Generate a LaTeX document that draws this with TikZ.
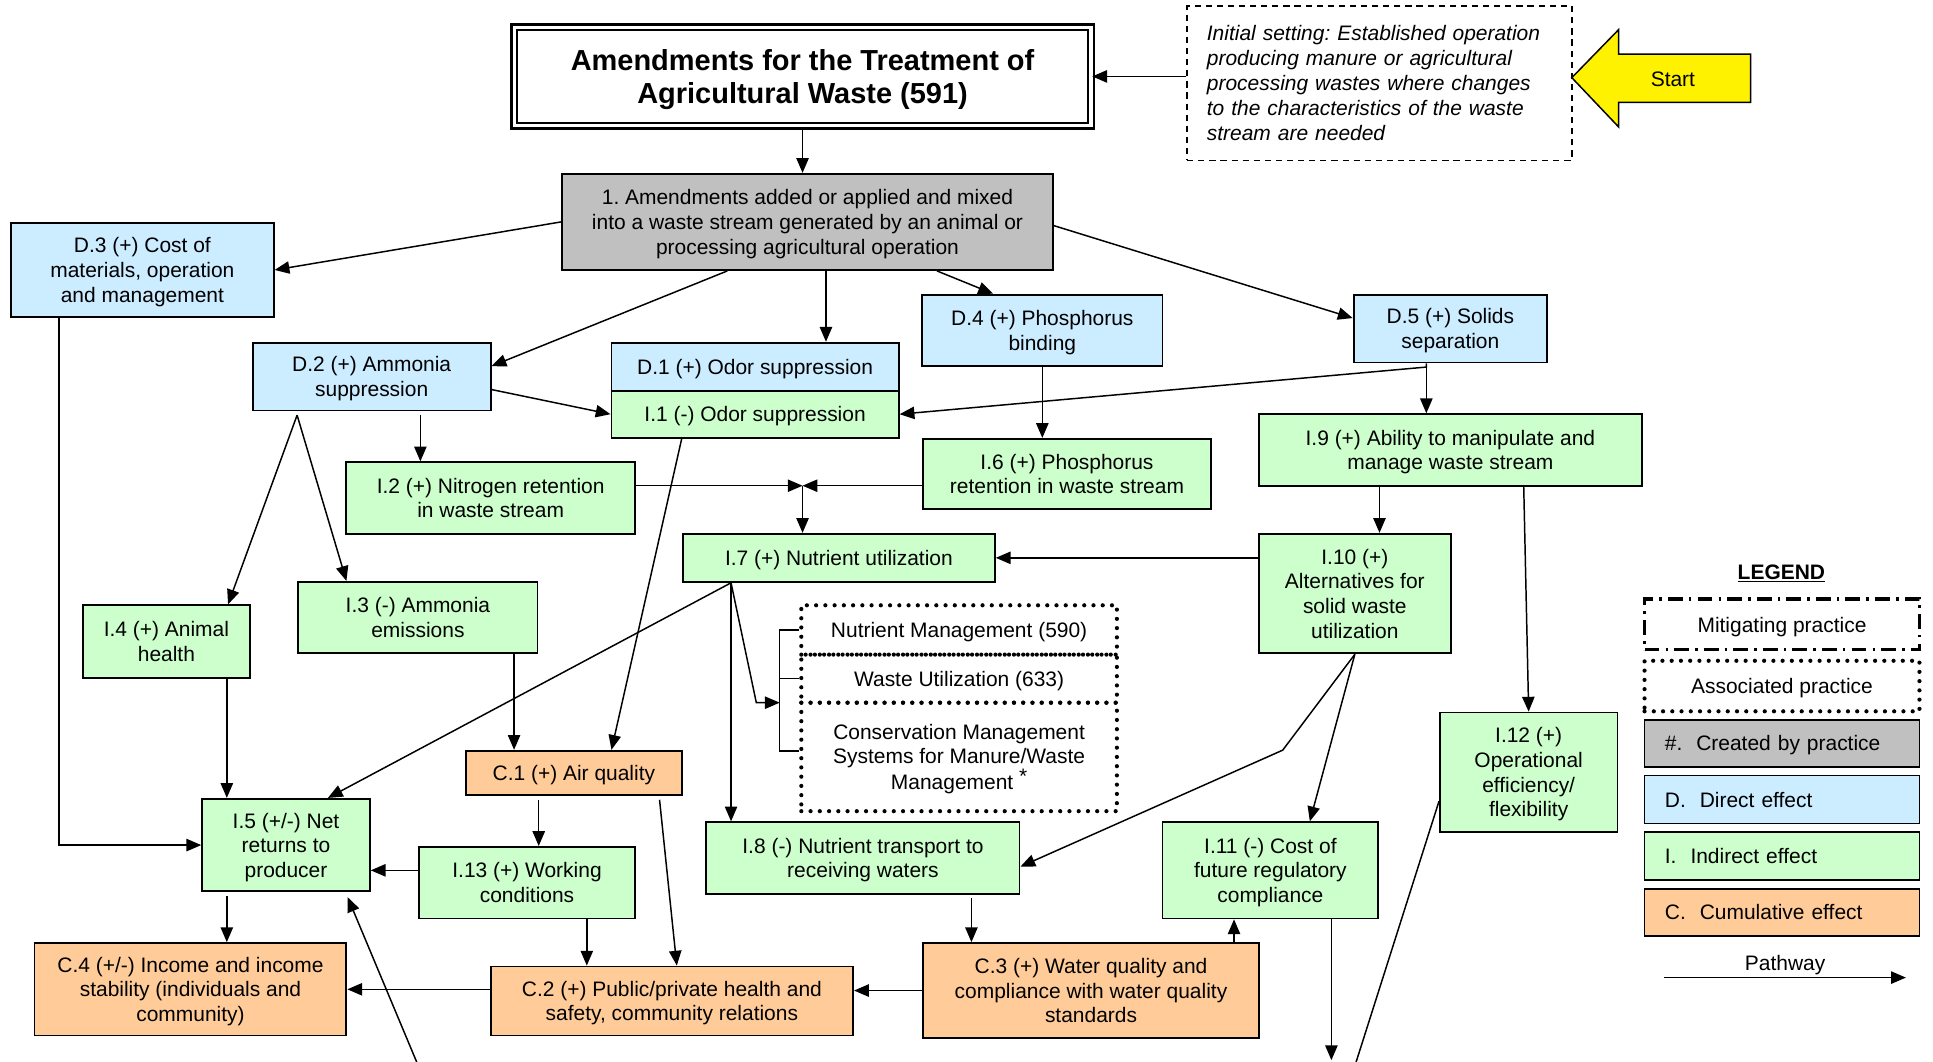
\documentclass[tikz,border=0pt]{standalone}
\usepackage{fontspec}
\setmainfont{Liberation Sans}
\usetikzlibrary{arrows.meta}
\frenchspacing

\definecolor{createdgray}{RGB}{192,192,192}
\definecolor{directblue}{RGB}{204,236,255}
\definecolor{indirectgreen}{RGB}{204,255,204}
\definecolor{cumulorange}{RGB}{255,204,153}

\tikzset{
    box/.style={draw,line width=1.5pt,align=center,inner sep=2pt,text depth=0pt},
    created/.style={box,fill=createdgray},
    direct/.style={box,fill=directblue},
    indirect/.style={box,fill=indirectgreen},
    cumul/.style={box,fill=cumulorange},
    assoc/.style={draw,line width=3.4pt,dash pattern=on 0pt off 7.5pt,line cap=round,align=center,inner sep=2pt,text depth=0pt},
    mitig/.style={draw,line width=2.8pt,dash pattern=on 12pt off 5pt on 2pt off 5pt,align=center,text depth=0pt},
    link/.style={-{Triangle[length=12pt,width=10pt]},line width=1.2pt},
    wh/.style 2 args={minimum width=#1pt,minimum height=#2pt}
    }

\begin{document}
\begin{tikzpicture}[x=1pt,y=-1pt,font=\fontsize{17}{20}\selectfont]
  \clip (0,0) rectangle (1568,861);
  \fill[white] (0,0) rectangle (1568,861);

  % The practice and its setting
  \node[draw,double,line width=2pt,double distance=2.5pt,wh={468}{80},align=center,text depth=0pt,
        font=\bfseries\fontsize{23.5}{27}\selectfont] (title) at (651,62)
        {Amendments for the Treatment of\\Agricultural Waste (591)};
  \node[draw,line width=1.2pt,dash pattern=on 5pt off 4pt,wh={312}{125},align=left,text width=280pt,
        font=\itshape\fontsize{17}{20.2}\selectfont] (init) at (1119,67.5)
        {Initial setting: Established operation\\producing manure or agricultural\\processing wastes where changes\\to the characteristics of the waste\\stream are needed};
  \filldraw[fill=yellow,line width=1.2pt] (1275,63) -- (1313,24) -- (1313,44) -- (1420,44)
        -- (1420,83) -- (1313,83) -- (1313,103) -- cycle;
  \node (start) at (1357,64) {Start};

  % The effects
  \node[created,wh={398}{78}] (p1) at (655,180) {1. Amendments added or applied and mixed\\into a waste stream generated by an animal or\\processing agricultural operation};
  \node[direct,wh={213}{76}] (d3) at (115.5,219) {D.3 (+) Cost of\\materials, operation\\and management};
  \node[direct,wh={193}{55}] (d2) at (301.5,305.5) {D.2 (+) Ammonia\\suppression};
  \node[direct,wh={233}{39}] (d1) at (612.5,297.5) {D.1 (+) Odor suppression};
  \node[indirect,wh={233}{38}] (i1) at (612.5,336) {I.1 (-) Odor suppression};
  \node[direct,wh={195}{58}] (d4) at (845.5,268) {D.4 (+) Phosphorus\\binding};
  \node[direct,wh={157}{55}] (d5) at (1176.5,266.5) {D.5 (+) Solids\\separation};
  \node[indirect,wh={234}{58}] (i2) at (398,404) {I.2 (+) Nitrogen retention\\in waste stream};
  \node[indirect,wh={233}{57}] (i6) at (865.5,384.5) {I.6 (+) Phosphorus\\retention in waste stream};
  \node[indirect,wh={253}{39}] (i7) at (680.5,452.5) {I.7 (+) Nutrient utilization};
  \node[indirect,wh={311}{58}] (i9) at (1176.5,365) {I.9 (+) Ability to manipulate and\\manage waste stream};
  \node[indirect,wh={156}{97}] (i10) at (1099,481.5) {I.10 (+)\\Alternatives for\\solid waste\\utilization};
  \node[indirect,wh={194}{58}] (i3) at (339,501) {I.3 (-) Ammonia\\emissions};
  \node[indirect,wh={136}{59}] (i4) at (135,520.5) {I.4 (+) Animal\\health};
  \node[indirect,wh={144}{97}] (i12) at (1240,626.5) {I.12 (+)\\Operational\\efficiency/\\flexibility};
  \node[cumul,wh={175}{36}] (c1) at (465.5,627) {C.1 (+) Air quality};
  \node[indirect,wh={136}{75}] (i5) at (232,685.5) {I.5 (+/-) Net\\returns to\\producer};
  \node[indirect,wh={175}{58}] (i13) at (427.5,716) {I.13 (+) Working\\conditions};
  \node[indirect,wh={254}{58}] (i8) at (700,696) {I.8 (-) Nutrient transport to\\receiving waters};
  \node[indirect,wh={175}{78}] (i11) at (1030.5,706) {I.11 (-) Cost of\\future regulatory\\compliance};
  \node[cumul,wh={253}{75}] (c4) at (154.5,802.5) {C.4 (+/-) Income and income\\stability (individuals and\\community)};
  \node[cumul,wh={294}{56}] (c2) at (545,812) {C.2 (+) Public/private health and\\safety, community relations};
  \node[cumul,wh={272}{77}] (c3) at (885,803.5) {C.3 (+) Water quality and\\compliance with water quality\\standards};

  % Associated practices
  \node[assoc,wh={256}{40}] (nm) at (778,511) {Nutrient Management (590)};
  \node[assoc,wh={256}{39}] (wu) at (778,550.5) {Waste Utilization (633)};
  \node[assoc,wh={256}{88}] (cms) at (778,614) {Conservation Management\\Systems for Manure/Waste\\Management \raisebox{5pt}{*}};

  % The pathways
  \draw[link] (init.west |- title.east) -- (title.east);
  \draw[link] (title.south) -- (title.south |- p1.north);
  \draw[link] (p1.west) -- (d3.east);
  \draw[link] ([xshift=-65]p1.south) -- ([yshift=8.5]d2.east);
  \draw[link] ([xshift=15]p1.south) -- ([xshift=15]p1.south |- d1.north);
  \draw[link] ([xshift=105]p1.south) -- ([xshift=-40]d4.north);
  \draw[link] ([yshift=-3]p1.east) -- ([yshift=8.5]d5.west);
  \coordinate (d5j) at ([xshift=-19.5,yshift=-3]d5.south);
  \draw[link] (d5.south -| d5j) -- (d5j) -- (i1.east);
  \draw[link] (d5j) -- (d5j |- i9.north);
  \draw[link] ([yshift=-10.5]d2.east) -- (i1.west);
  \draw[link] ([xshift=39.5,yshift=-3]d2.south) -- ([xshift=39.5]d2.south |- i2.north);
  \coordinate (d2j) at ([xshift=-60.5,yshift=-3]d2.south);
  \draw[link] (d2j) -- ([xshift=50]i4.north);
  \draw[link] (d2j) -- ([xshift=-58]i3.north);
  \coordinate (nj) at (651,394);
  \draw[link] (i2.east |- nj) -- (nj);
  \draw[link] (i6.west |- nj) -- (nj);
  \draw[link] (nj) -- (nj |- i7.north);
  \draw[link] (d4.south) -- (d4.south |- i6.north);
  \draw[link] ([xshift=20]i10.north |- i9.south) -- ([xshift=20]i10.north);
  \draw[link] ([xshift=59.5]i9.south) -- (i12.north);
  \draw[link] (i10.west |- i7.east) -- (i7.east);
  \coordinate (bend) at (1040.5,608.5);
  \draw[link] (i10.south) -- (bend) -- ([yshift=-7]i8.east);
  \draw[link] (i10.south) -- ([xshift=32]i11.north);
  \coordinate (out12) at (1097,871);
  \draw[line width=1.2pt] ([yshift=-23.5]i12.west) -- (out12);
  \coordinate (out11) at (1080,860);
  \draw[link] ([xshift=49.5]i11.south) -- (out11);
  \draw[link] ([xshift=116]c3.north) -- ([xshift=116]c3.north |- i11.south);
  \coordinate (i7s) at ([xshift=-87.5]i7.south);
  \draw[link] (i7s) -- (i7s |- i8.north);
  \draw[link] (i7s) -- ([xshift=34]i5.north);
  \coordinate (brk) at (632.5,570);
  \draw[link] (i7s) -- ([xshift=-19]brk) -- (brk);
  \draw[line width=1.2pt] (nm.west) -- (nm.west -| brk) -- ([yshift=5]cms.west -| brk) -- ([yshift=5]cms.west);
  \draw[line width=1.2pt] (wu.west) -- (wu.west -| brk);
  \draw[link] ([xshift=-59.5]i1.south) -- ([xshift=30.5]c1.north);
  \draw[link] ([xshift=78]i3.south) -- ([xshift=78]i3.south |- c1.north);
  \draw[link] ([xshift=49]i4.south) -- ([xshift=49]i4.south |- i5.north);
  \draw[link] ([xshift=-67.5]d3.south) |- (i5.west);
  \draw[link] ([xshift=-28.5,yshift=-3]c1.south) -- ([xshift=-28.5]c1.south |- i13.north);
  \draw[link] ([xshift=69.5,yshift=-3]c1.south) -- ([xshift=4]c2.north);
  \draw[link] ([yshift=10]i13.west) -- ([yshift=10]i13.west -| i5.east);
  \draw[link] ([xshift=48.5]i13.south) -- ([xshift=48.5]i13.south |- c2.north);
  \draw[link] ([xshift=-48,yshift=-3]i5.south) -- ([xshift=-48]i5.south |- c4.north);
  \coordinate (in5) at (342,871);
  \draw[link] (in5) -- ([xshift=50,yshift=-4]i5.south);
  \draw[link] (c2.west |- c4.east) -- (c4.east);
  \draw[link] (c3.west) -- (c3.west -| c2.east);
  \draw[link] ([xshift=88,yshift=-3]i8.south) -- ([xshift=88]i8.south |- c3.north);

  % The legend
  \node[font=\bfseries\fontsize{17}{20}\selectfont] (legend) at (1445,465) {\underline{LEGEND}};
  \node[mitig,wh={223}{41}] (lmit) at (1445.5,506.5) {Mitigating practice};
  \node[assoc,wh={223}{41}] (lass) at (1445.5,556.5) {Associated practice};
  \node[created,wh={223}{38},text width=190pt,align=left] (lcre) at (1445.5,603) {\#.\ \ Created by practice};
  \node[direct,wh={223}{39},text width=190pt,align=left] (ldir) at (1445.5,648.5) {D.\ \ Direct effect};
  \node[indirect,wh={223}{39},text width=190pt,align=left] (lind) at (1445.5,694.5) {I.\ \ Indirect effect};
  \node[cumul,wh={223}{38},text width=190pt,align=left] (lcum) at (1445.5,740) {C.\ \ Cumulative effect};
  \coordinate (pw1) at (1350,793);
  \coordinate (pw2) at (1546,793);
  \draw[link] (pw1) -- (pw2) node[midway,above,inner sep=2pt] (lpath) {Pathway};
\end{tikzpicture}
\end{document}
